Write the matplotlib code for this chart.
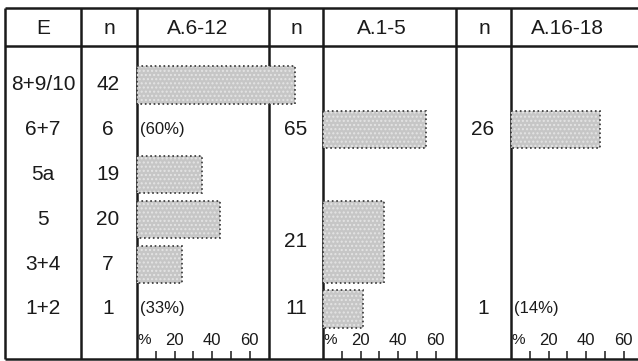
import matplotlib.pyplot as plt

plt.rcParams['font.family'] = ['Liberation Sans', 'DejaVu Sans']

# rows of the table (top to bottom)
e_labels = ['8+9/10', '6+7', '5a', '5', '3+4', '1+2']
n_612 = [42, 6, 19, 20, 7, 1]

# A.6-12 : one bar per row, small groups given as text
a612_rows = [0, 2, 3, 4]
a612_vals = [84, 34.6, 44, 24]
a612_notes = {1: '(60%)', 5: '(33%)'}

# A.1-5 : rows 5 and 3+4 are pooled
a15_rows = [1, 3.5, 5]
a15_span = [1, 2, 1]
a15_vals = [55, 32.4, 21.3]
a15_n = [65, 21, 11]

# A.16-18
a1618_rows = [1]
a1618_span = [1]
a1618_vals = [47.3]
a1618_n = [26, 1]
a1618_n_rows = [1, 5]
a1618_notes = {5: '(14%)'}

tick_vals = [10, 20, 30, 40, 50, 60]
tick_labels = {20: '20', 40: '40', 60: '60'}

W, H = 638, 361
fig = plt.figure(figsize=(W / 100, H / 100), dpi=100)

# table frame drawn in pixel coordinates
tab = fig.add_axes([0, 0, 1, 1])
tab.set_xlim(0, W)
tab.set_ylim(H, 0)
tab.axis('off')

lc = '#1a1a1a'
top, head, bottom = 8, 46, 359
cols = [5, 81, 137, 269, 323, 456, 511]
for y in [top, head, bottom]:
    tab.plot([5, W], [y, y], color=lc, lw=1.8, solid_capstyle='butt')
for x in cols:
    tab.plot([x, x], [top, bottom], color=lc, lw=1.8, solid_capstyle='butt')

fs = 15
heads = [(43, 'E'), (109, 'n'), (198, 'A.6-12'), (296, 'n'),
         (382, 'A.1-5'), (484, 'n'), (567, 'A.16-18')]
for x, s in heads:
    tab.text(x, 28, s, ha='center', va='center', fontsize=fs, color=lc)

row0, rstep = 85, 44.8
for i, (e, n) in enumerate(zip(e_labels, n_612)):
    tab.text(43, row0 + i * rstep, e, ha='center', va='center', fontsize=fs, color=lc)
    tab.text(108, row0 + i * rstep, str(n), ha='center', va='center', fontsize=fs, color=lc)
for r, n in zip(a15_rows, a15_n):
    tab.text(296, row0 + r * rstep, str(n), ha='center', va='center', fontsize=fs, color=lc)
for r, n in zip(a1618_n_rows, a1618_n):
    tab.text(483, row0 + r * rstep, str(n), ha='center', va='center', fontsize=fs, color=lc)

# bar panels, x in percent (0-70), y in row units
px_per_pct = 1.88
y_top = (head - row0) / rstep
y_bot = (bottom - row0) / rstep


def panel(left_px, rows, spans, vals, notes):
    ax = fig.add_axes([left_px / W, (H - bottom) / H, 70 * px_per_pct / W, (bottom - head) / H])
    ax.patch.set_visible(False)
    ax.set_xlim(0, 70)
    ax.set_ylim(y_bot, y_top)
    for s in ax.spines.values():
        s.set_visible(False)
    ax.set_yticks([])
    ax.set_xticks(tick_vals)
    ax.tick_params(axis='x', direction='in', length=6, width=1.1, color=lc,
                   labelbottom=False)
    h = [s - 0.17 for s in spans]
    ax.barh(rows, vals, height=h, left=0, color='#c6c6c6', edgecolor='#e4e4e4',
            hatch='....', lw=0, clip_on=False, zorder=3)
    ax.barh(rows, vals, height=h, left=0, fill=False, edgecolor='#333333',
            ls=':', lw=1.2, clip_on=False, zorder=4)
    for r, s in notes.items():
        ax.text(1.5, r, s, ha='left', va='center', fontsize=12, color=lc)
    ax.text(0.5, 5.7, '%', ha='left', va='center', fontsize=11, color=lc)
    for v, s in tick_labels.items():
        ax.text(v, 5.7, s, ha='center', va='center', fontsize=12, color=lc)
    return ax


panel(137, a612_rows, [1] * len(a612_rows), a612_vals, a612_notes)
panel(323, a15_rows, a15_span, a15_vals, {})
panel(511, a1618_rows, a1618_span, a1618_vals, a1618_notes)

fig.savefig('out.png', dpi=100)
